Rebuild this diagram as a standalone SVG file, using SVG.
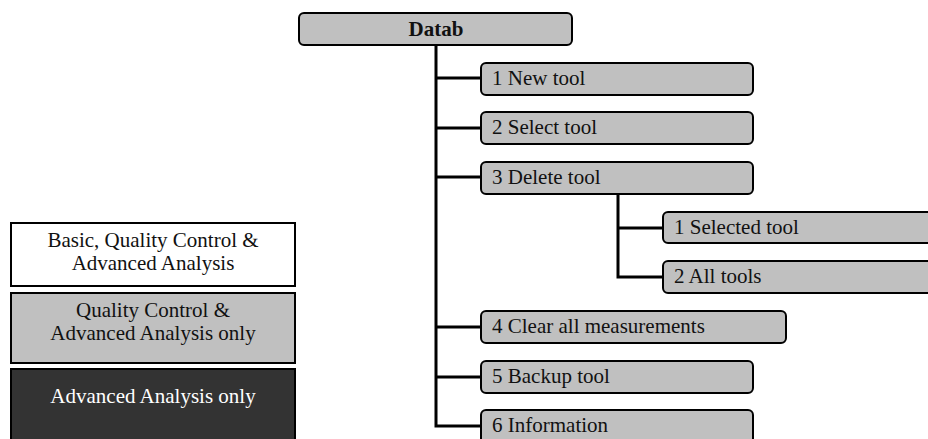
<svg xmlns="http://www.w3.org/2000/svg" width="928" height="439" viewBox="0 0 928 439">
  <style>
    .box { fill: #c0c0c0; stroke: #000; stroke-width: 2; }
    .lbl { font-family: "Liberation Serif", "Times New Roman", serif; font-size: 21px; fill: #111; }
    .title { font-weight: bold; text-anchor: middle; }
    .key { stroke: #000; stroke-width: 2; }
    .mid { text-anchor: middle; }
    .wire { fill: none; stroke: #000; stroke-width: 3; }
  </style>
  <rect width="928" height="439" fill="#fff"/>

  <!-- connectors -->
  <g id="connectors" class="wire">
    <path d="M436,45 V426 H482"/>
    <path d="M436,78 H482"/>
    <path d="M436,128 H482"/>
    <path d="M436,177 H482"/>
    <path d="M436,327 H482"/>
    <path d="M436,377 H482"/>
    <path d="M618,194 V277 H664"/>
    <path d="M618,228 H664"/>
  </g>

  <!-- menu tree -->
  <g id="datab">
    <rect class="box" x="299" y="13" width="273" height="32" rx="5"/>
    <text class="lbl title" x="436" y="35.5">Datab</text>
  </g>
  <g id="new-tool">
    <rect class="box" x="481" y="63" width="272" height="32" rx="5"/>
    <text class="lbl" x="492" y="84.5">1 New tool</text>
  </g>
  <g id="select-tool">
    <rect class="box" x="481" y="112" width="272" height="32" rx="5"/>
    <text class="lbl" x="492" y="134">2 Select tool</text>
  </g>
  <g id="delete-tool">
    <rect class="box" x="481" y="162" width="272" height="32" rx="5"/>
    <text class="lbl" x="492" y="183.5">3 Delete tool</text>
  </g>
  <g id="selected-tool">
    <rect class="box" x="663" y="212" width="280" height="31" rx="5"/>
    <text class="lbl" x="674" y="233.5">1 Selected tool</text>
  </g>
  <g id="all-tools">
    <rect class="box" x="663" y="261" width="280" height="32" rx="5"/>
    <text class="lbl" x="674" y="283">2 All tools</text>
  </g>
  <g id="clear-measurements">
    <rect class="box" x="481" y="311" width="305" height="32" rx="5"/>
    <text class="lbl" x="492" y="333">4 Clear all measurements</text>
  </g>
  <g id="backup-tool">
    <rect class="box" x="481" y="361" width="272" height="32" rx="5"/>
    <text class="lbl" x="492" y="382.5">5 Backup tool</text>
  </g>
  <g id="information">
    <rect class="box" x="481" y="410" width="272" height="40" rx="5"/>
    <text class="lbl" x="492" y="432">6 Information</text>
  </g>

  <!-- licence key -->
  <g id="key-basic">
    <rect class="key" x="11" y="223" width="284" height="63" fill="#fff"/>
    <text class="lbl mid" x="153" y="246.5">Basic, Quality Control &amp;</text>
    <text class="lbl mid" x="153" y="269.5">Advanced Analysis</text>
  </g>
  <g id="key-qc">
    <rect class="key" x="11" y="293" width="284" height="70" fill="#c0c0c0"/>
    <text class="lbl mid" x="153" y="316.5">Quality Control &amp;</text>
    <text class="lbl mid" x="153" y="340">Advanced Analysis only</text>
  </g>
  <g id="key-advanced">
    <rect class="key" x="11" y="369" width="284" height="80" fill="#333"/>
    <text class="lbl mid" x="153" y="403" style="fill:#fff">Advanced Analysis only</text>
  </g>
</svg>
